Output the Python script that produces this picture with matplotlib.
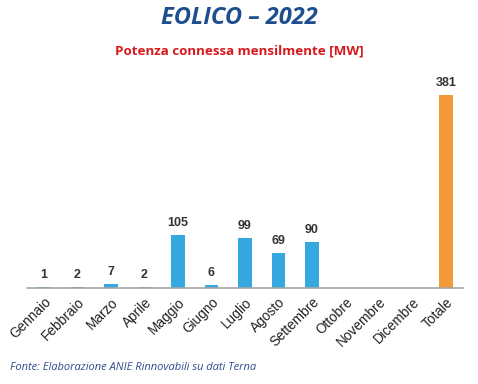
import matplotlib
matplotlib.use("Agg")
import matplotlib.pyplot as plt

mesi = ["Gennaio", "Febbraio", "Marzo", "Aprile", "Maggio", "Giugno", "Luglio",
        "Agosto", "Settembre", "Ottobre", "Novembre", "Dicembre", "Totale"]
valori = [1, 2, 7, 2, 105, 6, 99, 69, 90, None, None, None, 381]

blu = "#35A8E0"
arancio = "#F39B3A"

fig = plt.figure(figsize=(4.78, 3.84), dpi=100)
ax = fig.add_axes([0.0565, 0.25, 0.912, 0.528])

x = list(range(len(mesi)))
for i, v in enumerate(valori):
    if v is None:
        continue
    col = arancio if mesi[i] == "Totale" else blu
    ax.bar(i, v, width=0.4, color=col)
    ax.text(i, v + 12, str(v), ha="center", va="bottom", fontsize=9,
            fontweight="bold", color="#333333", family="Liberation Sans")

ax.set_xlim(-0.5, len(mesi) - 0.5)
ax.set_ylim(0, 400)
ax.set_xticks(x)
ax.set_xticklabels(mesi, rotation=45, ha="right", rotation_mode="anchor",
                   fontsize=9.8, family="Liberation Sans", color="#222222")
ax.tick_params(axis="x", length=0, pad=5)
ax.set_yticks([])
for s in ["top", "right", "left"]:
    ax.spines[s].set_visible(False)
ax.spines["bottom"].set_color("#A6A6A6")
ax.spines["bottom"].set_linewidth(1.2)

fig.text(0.50, 0.953, "EOLICO – 2022", ha="center", va="center", fontsize=17,
         fontweight="bold", style="italic", color="#1F4E8F", family="Open Sans")
fig.text(0.50, 0.868, "Potenza connessa mensilmente [MW]", ha="center", va="center",
         fontsize=9.6, fontweight="bold", color="#D7191C", family="Open Sans")
fig.text(0.02, 0.043, "Fonte: Elaborazione ANIE Rinnovabili su dati Terna", ha="left",
         va="center", fontsize=8, style="italic", color="#2E4C8C", family="Open Sans")

fig.savefig("out.png", dpi=100)
